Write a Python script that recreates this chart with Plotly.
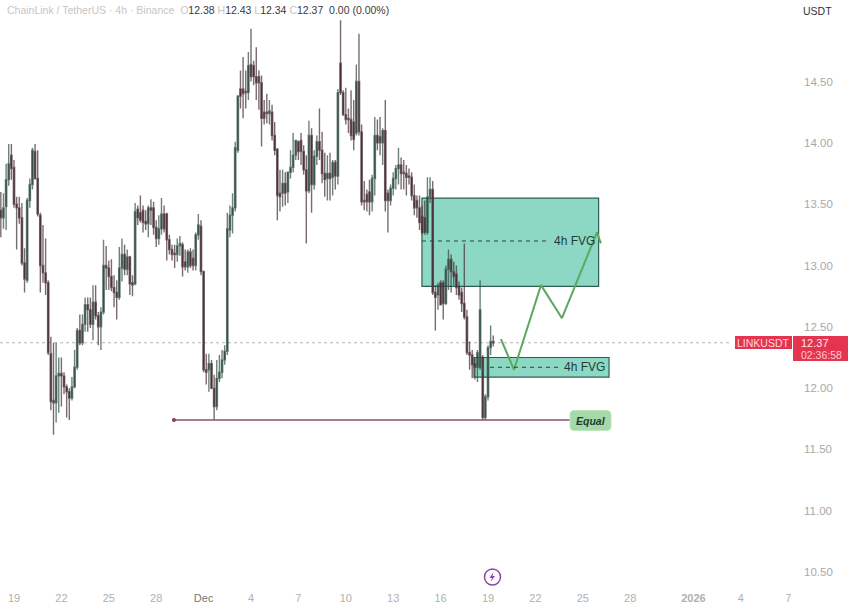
import pandas as pd
import plotly.graph_objects as go

# OHLC, 4h candles (one row = one day of six candles)
opens = [
13.45,13.39,13.48,13.70,13.90,13.80,
13.50,13.47,13.39,13.02,12.88,13.53,
13.66,13.93,13.71,13.41,13.00,12.94,
12.86,12.28,11.90,11.88,12.10,12.12,
12.10,12.01,11.97,11.92,12.01,12.17,
12.47,12.37,12.52,12.68,12.64,12.52,
12.70,12.59,12.50,12.62,13.00,12.98,
12.91,12.82,12.78,12.74,12.98,13.09,
12.97,13.07,12.86,12.85,13.46,13.43,
13.45,13.36,13.34,13.47,13.47,13.31,
13.22,13.30,13.42,13.42,13.21,13.13,
13.10,13.09,13.16,13.17,13.03,12.99,
13.11,13.06,13.00,13.25,13.32,12.95,
12.15,12.15,12.20,12.00,11.85,12.08,
12.13,12.23,12.30,13.29,13.41,13.47,
13.94,14.44,14.44,14.42,14.41,14.64,
14.63,14.54,14.54,14.49,14.25,14.25,
14.24,14.25,14.06,13.95,13.59,13.59,
13.67,13.60,13.76,13.80,13.90,14.01,
14.02,13.93,13.78,13.61,14.06,13.66,
13.89,14.01,13.94,13.75,13.71,13.75,
13.72,13.84,13.73,14.65,14.41,14.23,
14.20,14.19,14.17,14.08,14.50,14.09,
13.53,13.58,13.60,13.52,13.71,14.06,
14.05,14.00,14.10,13.59,13.53,13.63,
13.71,13.79,13.82,13.76,13.75,13.73,
13.72,13.57,13.53,13.47,13.40,13.39,
13.27,13.56,13.62,12.78,12.76,12.86,
12.86,12.69,12.97,13.05,12.95,12.93,
12.83,12.78,12.69,12.58,12.29,12.27,
12.20,12.17,12.17,12.25,11.76,11.93,
12.33,12.38]
highs = [
13.60,13.59,13.83,13.99,13.99,13.86,
13.56,13.56,13.51,13.14,13.55,13.71,
13.96,13.99,13.94,13.43,13.33,13.22,
12.88,12.42,12.37,12.37,12.25,12.25,
12.13,12.03,12.00,12.09,12.31,12.49,
12.60,12.60,12.74,12.74,12.74,12.84,
12.84,12.62,12.66,13.21,13.16,13.04,
13.05,12.92,12.88,13.15,13.22,13.17,
13.13,13.08,12.92,13.51,13.49,13.57,
13.49,13.45,13.49,13.54,13.52,13.37,
13.41,13.55,13.49,13.43,13.25,13.17,
13.17,13.22,13.24,13.19,13.13,13.13,
13.14,13.13,13.27,13.42,13.37,12.96,
12.28,12.28,12.23,12.11,12.23,12.27,
12.31,12.35,13.43,13.49,13.59,14.01,
14.39,14.59,14.70,14.59,14.74,14.93,
14.67,14.78,14.59,14.55,14.35,14.40,
14.35,14.31,14.17,13.95,13.78,13.78,
13.76,13.76,13.94,14.08,14.02,14.02,
14.08,13.98,13.90,14.18,14.12,13.94,
14.06,14.28,14.09,13.92,13.90,13.92,
13.86,13.86,14.44,15.00,14.43,14.45,
14.28,14.43,14.35,14.64,14.89,14.15,
13.69,13.62,13.70,13.74,14.21,14.19,
14.21,14.12,14.35,13.62,13.66,13.76,
13.82,13.96,13.88,13.86,13.82,13.79,
13.76,13.66,13.57,13.57,13.49,13.53,
13.72,13.72,13.69,12.84,12.86,12.88,
12.88,13.00,13.13,13.09,13.03,13.00,
12.87,12.82,13.18,12.64,12.38,12.31,
12.25,12.31,12.88,12.27,11.95,12.35,
12.51,12.43]
lows = [
13.23,13.30,13.29,13.65,13.70,13.47,
13.13,13.34,13.00,12.78,12.86,13.47,
13.62,13.70,13.40,12.78,12.86,12.76,
12.27,11.82,11.62,11.72,11.80,11.85,
11.95,11.76,11.74,11.90,12.00,12.15,
12.35,12.35,12.46,12.46,12.49,12.39,
12.56,12.35,12.31,12.60,12.80,12.80,
12.79,12.66,12.56,12.72,12.87,12.92,
12.92,12.76,12.75,12.84,13.33,13.35,
13.27,13.29,13.23,13.33,13.25,13.15,
13.17,13.25,13.27,13.04,13.09,13.04,
12.98,13.03,13.08,12.91,12.96,12.94,
12.98,12.96,12.96,13.21,12.92,12.13,
12.03,11.97,11.99,11.74,11.82,12.05,
12.08,12.19,12.27,13.23,13.26,13.44,
13.92,14.28,14.20,14.28,14.35,14.50,
14.47,14.35,14.27,13.97,14.15,14.16,
14.15,14.02,13.90,13.37,13.44,13.48,
13.49,13.51,13.71,13.76,13.86,13.86,
13.82,13.74,13.18,13.59,13.43,13.62,
13.82,13.86,13.67,13.56,13.53,13.53,
13.57,13.62,13.66,14.39,14.22,14.15,
14.08,14.02,13.94,14.06,14.06,13.49,
13.45,13.44,13.41,13.44,13.57,13.94,
13.90,13.82,13.44,13.27,13.49,13.57,
13.62,13.66,13.62,13.62,13.57,13.66,
13.53,13.41,13.39,13.29,13.25,13.25,
13.25,13.51,12.76,12.47,12.64,12.68,
12.56,12.68,12.80,12.78,12.84,12.76,
12.72,12.62,12.56,12.27,12.15,12.08,
12.07,12.05,12.15,11.74,11.74,11.90,
12.27,12.34]
closes = [
13.39,13.47,13.70,13.83,13.79,13.50,
13.47,13.39,13.02,12.89,13.53,13.66,
13.94,13.71,13.42,13.00,12.94,12.86,
12.29,11.89,11.88,12.10,12.12,12.10,
12.01,11.97,11.92,12.01,12.17,12.47,
12.37,12.52,12.68,12.64,12.52,12.70,
12.59,12.50,12.62,13.00,12.98,12.91,
12.82,12.78,12.74,12.98,13.09,12.97,
13.07,12.85,12.84,13.44,13.39,13.37,
13.35,13.34,13.47,13.45,13.31,13.22,
13.30,13.42,13.30,13.21,13.13,13.09,
13.09,13.16,13.18,12.99,12.99,13.11,
13.00,13.00,13.25,13.33,12.95,12.15,
12.13,12.20,12.00,11.85,12.08,12.13,
12.23,12.30,13.30,13.41,13.47,13.96,
14.38,14.38,14.40,14.41,14.63,14.54,
14.54,14.49,14.49,14.20,14.20,14.24,
14.26,14.06,13.94,13.57,13.56,13.67,
13.59,13.76,13.80,13.90,14.02,13.93,
13.93,13.78,13.61,14.06,13.66,13.89,
14.01,13.94,13.75,13.70,13.75,13.71,
13.84,13.73,14.41,14.41,14.23,14.19,
14.19,14.06,14.03,14.50,14.09,13.52,
13.52,13.52,13.52,13.71,14.06,14.00,
14.00,14.10,13.53,13.53,13.63,13.71,
13.79,13.82,13.75,13.75,13.72,13.72,
13.57,13.47,13.47,13.35,13.27,13.27,
13.56,13.62,12.78,12.74,12.84,12.68,
12.69,12.97,13.05,12.95,12.91,12.82,
12.76,12.69,12.58,12.29,12.27,12.19,
12.17,12.29,12.64,11.76,11.93,12.33,
12.38,12.37]

candle_times = pd.date_range("2025-11-18 04:00", periods=len(closes), freq="4h")

# axis labels
tick_dates = ["2025-11-19","2025-11-22","2025-11-25","2025-11-28","2025-12-01","2025-12-04",
              "2025-12-07","2025-12-10","2025-12-13","2025-12-16","2025-12-19","2025-12-22",
              "2025-12-25","2025-12-28","2026-01-01","2026-01-04","2026-01-07"]
tick_labels = ["19","22","25","28",'<span style="color:#777777">Dec</span>',"4","7","10","13","16","19","22","25","28","<b>2026</b>","4","7"]
price_ticks = [10.5,11.0,11.5,12.0,12.5,13.0,13.5,14.0,14.5]

# annotations on the chart
upper_fvg = dict(x0="2025-12-14 19:40", x1="2025-12-26 00:00", top=13.55, bottom=12.83, mid=13.20, dash_end="2025-12-22 16:00", label_x="2025-12-24 11:00")
lower_fvg = dict(x0="2025-12-18 02:40", x1="2025-12-26 15:50", top=12.25, bottom=12.09, mid=12.17, dash_start="2025-12-19 03:00", dash_end="2025-12-23 14:00", label_x="2025-12-25 02:00")
path_times = ["2025-12-19 19:40","2025-12-20 15:30","2025-12-22 08:30","2025-12-23 16:20","2025-12-25 21:30","2025-12-26 03:30"]
path_prices = [12.40,12.15,12.84,12.57,13.27,13.18]
equal_times = ["2025-11-29 03:00","2025-12-24 04:48"]
equal_price = 11.74
last_price = 12.37

UP = "#34564a"
DOWN = "#5a3039"
WICK_UP = "rgba(52,80,68,0.72)"
WICK_DOWN = "rgba(70,50,55,0.72)"
TEAL = "#8cd8c4"
EDGE = "#2f5f52"
FONT = "Liberation Sans"

W, H = 848, 607
PLOT_W, PLOT_H = 795, 590
px = lambda v: v / PLOT_W
py = lambda v: 1 - v / PLOT_H

fig = go.Figure()
fig.add_trace(go.Candlestick(
    x=candle_times, open=opens, high=highs, low=lows, close=closes,
    increasing=dict(line=dict(color=WICK_UP, width=1.4), fillcolor=UP),
    decreasing=dict(line=dict(color=WICK_DOWN, width=1.4), fillcolor=DOWN),
    whiskerwidth=0, hoverinfo="skip", showlegend=False))

bolt = [(493.5,572),(489.5,578),(492,578),(490.5,582),(495,576),(492.5,576)]
bolt_path = "M " + " L ".join(f"{px(a)} {py(b)}" for a, b in bolt) + " Z"


def rounded_box(left, top, right, bottom, r):
    a, b, c, d = px(left), px(right), py(top), py(bottom)
    ra, rb = r / PLOT_W, r / PLOT_H
    return (f"M {a+ra} {c} L {b-ra} {c} Q {b} {c} {b} {c-rb} L {b} {d+rb} Q {b} {d} {b-ra} {d} "
            f"L {a+ra} {d} Q {a} {d} {a} {d+rb} L {a} {c-rb} Q {a} {c} {a+ra} {c} Z")


shapes = [
    dict(type="rect", x0=upper_fvg["x0"], x1=upper_fvg["x1"], y0=upper_fvg["bottom"], y1=upper_fvg["top"],
         fillcolor=TEAL, line=dict(color=EDGE, width=1.2), layer="below"),
    dict(type="rect", x0=lower_fvg["x0"], x1=lower_fvg["x1"], y0=lower_fvg["bottom"], y1=lower_fvg["top"],
         fillcolor=TEAL, line=dict(color=EDGE, width=1.2), layer="below"),
    dict(type="line", x0=upper_fvg["x0"], x1=upper_fvg["dash_end"], y0=upper_fvg["mid"], y1=upper_fvg["mid"],
         line=dict(color="#24473e", width=1, dash="4px,4px"), layer="above"),
    dict(type="line", x0=lower_fvg["dash_start"], x1=lower_fvg["dash_end"], y0=lower_fvg["mid"], y1=lower_fvg["mid"],
         line=dict(color="#24473e", width=1, dash="4px,4px"), layer="above"),
    dict(type="line", x0="2025-11-18 02:44", x1="2026-01-03 10:00", y0=last_price, y1=last_price,
         line=dict(color="#b5b5b5", width=1, dash="dot"), layer="below"),
    dict(type="line", x0=equal_times[0], x1=equal_times[1], y0=equal_price, y1=equal_price,
         line=dict(color="#8c4f70", width=1.5), layer="above"),
    # Equal badge
    dict(type="path", xref="paper", yref="paper", path=rounded_box(570, 410.5, 611, 430.5, 4),
         fillcolor="#a6d9a9", line=dict(color="#bfe5c1", width=1), layer="above"),
    # price tags
    dict(type="rect", xref="paper", yref="paper", x0=px(735), x1=px(792), y0=py(349), y1=py(336),
         fillcolor="#e5344f", line=dict(width=0), layer="above"),
    dict(type="rect", xref="paper", yref="paper", x0=px(793), x1=px(848), y0=py(361), y1=py(336),
         fillcolor="#e5344f", line=dict(width=0), layer="above"),
    # lightning badge
    dict(type="circle", xref="paper", yref="paper", x0=px(484.5), x1=px(500.5), y0=py(585), y1=py(569),
         fillcolor="white", line=dict(color="#8e44ad", width=1.5), layer="above"),
    dict(type="path", xref="paper", yref="paper", path=bolt_path,
         fillcolor="#8e44ad", line=dict(width=0), layer="above"),
]

fig.add_trace(go.Scatter(x=path_times, y=path_prices, mode="lines", line=dict(color="#5aa95f", width=2),
                         hoverinfo="skip", showlegend=False))
fig.add_trace(go.Scatter(x=equal_times[:1], y=[equal_price], mode="markers",
                         marker=dict(color="#8c2f55", size=4), hoverinfo="skip", showlegend=False))

G = "#c6c6c6"
header = (f'<span style="color:{G}">ChainLink / TetherUS · 4h · Binance  O</span>12.38 '
          f'<span style="color:{G}">H</span>12.43 <span style="color:{G}">L</span>12.34 '
          f'<span style="color:{G}">C</span>12.37  0.00 (0.00%)')
annotations = [
    dict(text=header, xref="paper", yref="paper", x=px(5), y=py(10.5), xanchor="left", yanchor="middle",
         showarrow=False, font=dict(size=10.5, color="#3a3a3a", family=FONT)),
    dict(text="USDT", xref="paper", yref="paper", x=px(817), y=py(11), xanchor="center", yanchor="middle", showarrow=False,
         font=dict(size=10.5, color="#333333", family=FONT)),
    dict(text="4h FVG", x=upper_fvg["label_x"], y=upper_fvg["mid"], xanchor="center", yanchor="middle", showarrow=False,
         font=dict(size=12, color="#1f3d36", family=FONT)),
    dict(text="4h FVG", x=lower_fvg["label_x"], y=lower_fvg["mid"], xanchor="center", yanchor="middle", showarrow=False,
         font=dict(size=12, color="#1f3d36", family=FONT)),
    dict(text="<b><i>Equal</i></b>", xref="paper", yref="paper", x=px(590.5), y=py(420.5), xanchor="center", yanchor="middle", showarrow=False,
         font=dict(size=10.5, color="#1d3b2a", family=FONT)),
    dict(text="LINKUSDT", xref="paper", yref="paper", x=px(763.5), y=py(342.5), xanchor="center", yanchor="middle", showarrow=False,
         font=dict(size=10.5, color="#ffd9de", family=FONT)),
    dict(text="12.37", xref="paper", yref="paper", x=px(799), y=py(342.5), xanchor="left", yanchor="middle", showarrow=False,
         font=dict(size=11, color="#ffe6ea", family=FONT)),
    dict(text="02:36:58", xref="paper", yref="paper", x=px(799), y=py(354.5), xanchor="left", yanchor="middle", showarrow=False,
         font=dict(size=10.5, color="#ffc9d0", family=FONT)),
]

fig.update_layout(
    width=W, height=H, autosize=False,
    margin=dict(l=0, r=W-PLOT_W, t=0, b=H-PLOT_H),
    paper_bgcolor="white", plot_bgcolor="white",
    showlegend=False, shapes=shapes, annotations=annotations,
    xaxis=dict(type="date", range=["2025-11-18 02:44", "2026-01-07 10:19"], rangeslider=dict(visible=False),
               tickmode="array", tickvals=tick_dates, ticktext=tick_labels, showgrid=False, zeroline=False,
               showline=False, ticks="", tickfont=dict(size=11, color="#b0b0b0", family=FONT)),
    yaxis=dict(side="right", range=[10.354, 15.165], tickmode="array", tickvals=price_ticks,
               ticktext=[f"{v:.2f}" for v in price_ticks], showgrid=False, zeroline=False, showline=False,
               ticks="", ticklabelstandoff=8, tickfont=dict(size=11.5, color="#a8a8a8", family=FONT)),
)
fig.write_html("out.html", config=dict(displayModeBar=False),
               post_script="document.body.style.margin='0';document.documentElement.style.overflow='hidden';")
